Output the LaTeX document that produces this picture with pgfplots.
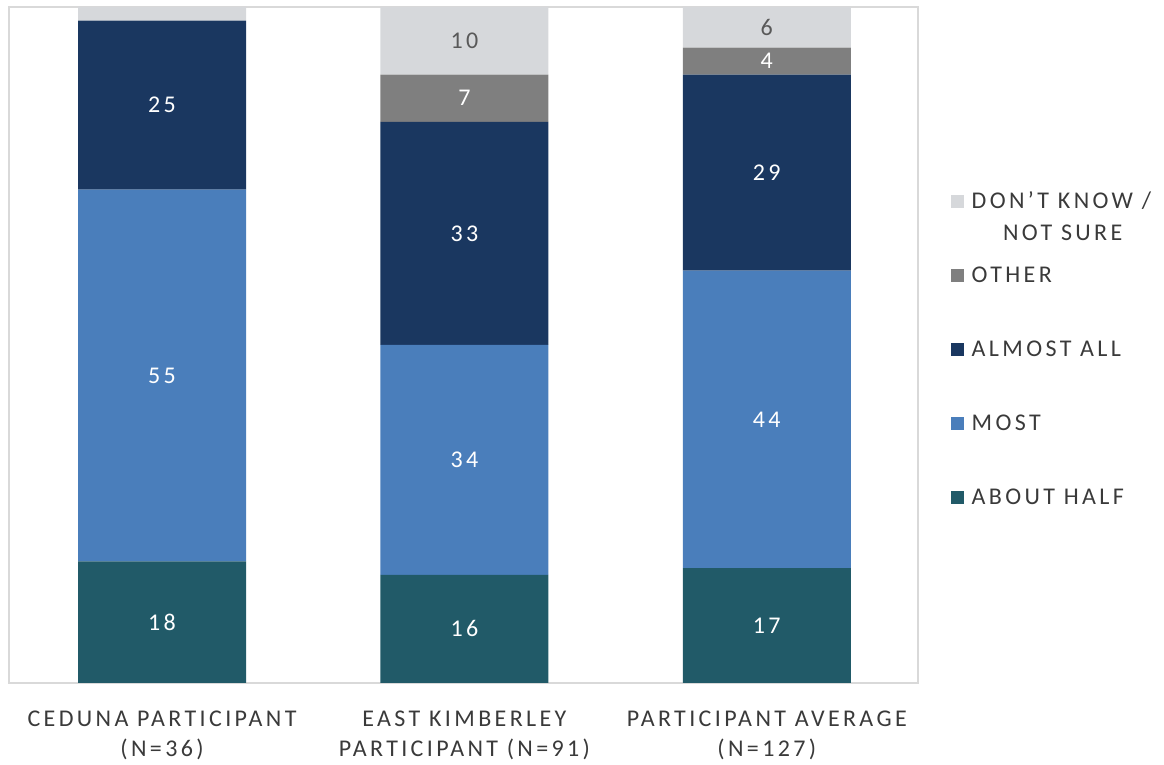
\documentclass[border=0pt]{standalone}
\usepackage{pgfplots}
\pgfplotsset{compat=1.18}
\usepackage{pgfplotstable}
\usepackage{fontspec}
\setmainfont{Carlito}[LetterSpace=14]

\definecolor{cHalf}{HTML}{215A68}
\definecolor{cMost}{HTML}{4A7EBB}
\definecolor{cAlmost}{HTML}{1A3760}
\definecolor{cOther}{HTML}{7F7F7F}
\definecolor{cDK}{HTML}{D6D8DB}
\definecolor{txt}{HTML}{3A3A3A}
\definecolor{frame}{HTML}{D9D9D9}
\definecolor{dklab}{HTML}{595959}

% share of respondents (%) per group
\pgfplotstableread{
pos half most almost other dk
0   18   55   25     0     2
1   16   34   33     7     10
2   17   44   29     4     6
}\shares

\begin{document}
\begin{tikzpicture}
\useasboundingbox (-4.5pt,-41pt) rectangle (577.5pt,341.5pt);
\begin{axis}[
  at={(0,0)}, anchor=south west,
  scale only axis, width=454.5pt, height=338pt,
  ybar stacked, bar width=84pt,
  xmin=-0.506, xmax=2.5, ymin=0, ymax=100,
  xtick={0,1,2},
  xticklabels={{CEDUNA PARTICIPANT\\(N=36)},{EAST KIMBERLEY\\PARTICIPANT (N=91)},{PARTICIPANT AVERAGE\\(N=127)}},
  xticklabel style={align=center, anchor=north, inner sep=0pt, yshift=-13.85pt,
    font=\fontsize{12}{15}\selectfont, text=txt},
  ytick=\empty,
  major tick length=0pt,
  axis line style={draw=frame, line width=1pt},
  point meta=explicit symbolic,
  % very small shares are left unlabelled
  nodes near coords={\ifnum\pgfplotspointmeta<3 \else\pgfplotspointmeta\fi},
  every node near coord/.append style={font=\fontsize{12}{14}\selectfont, text=white},
  reverse legend,
  legend image code/.code={\fill[#1] (0pt,0pt) rectangle (6.5pt,6.5pt);},
  legend style={at={(1.036,0.7263)}, anchor=north west, draw=none, fill=none,
    inner sep=0pt, outer sep=0pt, row sep=27pt,
    font=\fontsize{12}{14}\selectfont, text=txt,
    nodes={inner sep=0pt, text height=8pt, text depth=2pt, anchor=base west},
    /tikz/every odd column/.append style={column sep=4pt}},
]
\addplot[fill=cHalf, draw=none] table[x=pos, y=half, meta=half] {\shares};
\addlegendentry{ABOUT HALF}
\addplot[fill=cMost, draw=none] table[x=pos, y=most, meta=most] {\shares};
\addlegendentry{MOST}
\addplot[fill=cAlmost, draw=none] table[x=pos, y=almost, meta=almost] {\shares};
\addlegendentry{ALMOST ALL}
\addplot[fill=cOther, draw=none] table[x=pos, y=other, meta=other] {\shares};
\addlegendentry{OTHER}
\addplot[fill=cDK, draw=none, every node near coord/.append style={text=dklab}]
  table[x=pos, y=dk, meta=dk] {\shares};
\addlegendentry{\vtop{\baselineskip=16pt\hbox{DON’T KNOW /}\hbox{\hspace{15.7pt}NOT SURE}}}
\end{axis}
\end{tikzpicture}
\end{document}
